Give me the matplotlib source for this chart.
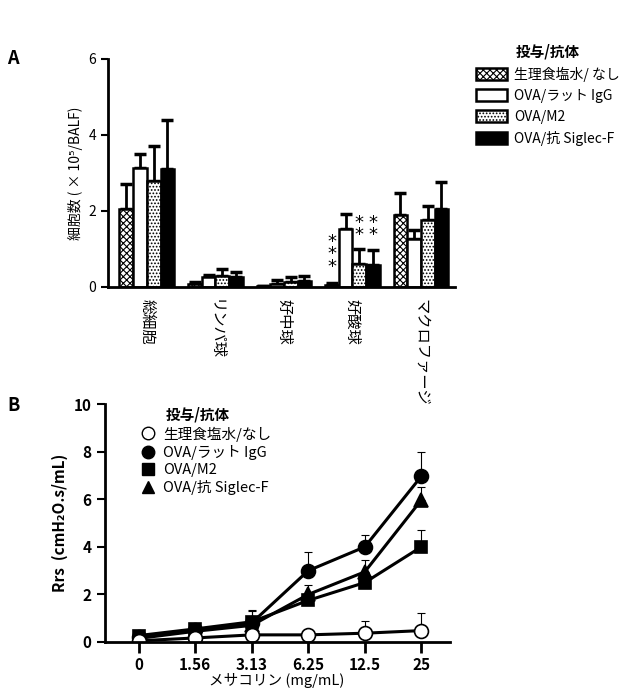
import numpy as np
import matplotlib
matplotlib.use("Agg")
import matplotlib.pyplot as plt
from matplotlib.patches import Patch
from matplotlib.lines import Line2D

plt.rcParams['font.family'] = ['Noto Sans CJK JP', 'DejaVu Sans']
plt.rcParams['hatch.linewidth'] = 0.8

# panel A: BALF cell counts
cell_types = ["総細胞", "リンパ球", "好中球", "好酸球", "マクロファージ"]
groups = ["生理食塩水/ なし", "OVA/ラット IgG", "OVA/M2", "OVA/抗 Siglec-F"]
cells_saline = [2.05, 0.08, 0.02, 0.06, 1.88]
cells_igg = [3.12, 0.26, 0.08, 1.53, 1.27]
cells_m2 = [2.80, 0.28, 0.12, 0.60, 1.76]
cells_sigf = [3.10, 0.27, 0.15, 0.58, 2.06]
err_saline = [0.65, 0.04, 0.01, 0.03, 0.58]
err_igg = [0.38, 0.06, 0.10, 0.38, 0.23]
err_m2 = [0.90, 0.18, 0.13, 0.40, 0.38]
err_sigf = [1.30, 0.12, 0.15, 0.38, 0.70]

# panel B: airway resistance
doses = ["0", "1.56", "3.13", "6.25", "12.5", "25"]
rrs_saline = [0.05, 0.17, 0.30, 0.30, 0.37, 0.48]
rrs_igg = [0.20, 0.50, 0.80, 3.00, 4.00, 6.97]
rrs_m2 = [0.27, 0.55, 0.85, 1.75, 2.50, 4.00]
rrs_sigf = [0.15, 0.45, 0.70, 2.00, 2.95, 5.97]
rerr_saline = [0.05, 0.10, 0.20, 0.15, 0.50, 0.72]
rerr_igg = [0.10, 0.20, 0.55, 0.80, 0.50, 1.03]
rerr_m2 = [0.10, 0.20, 0.45, 0.30, 0.40, 0.70]
rerr_sigf = [0.10, 0.20, 0.40, 0.40, 0.50, 0.53]

fig = plt.figure(figsize=(6.27, 6.93), dpi=100)

# ---- panel A
axA = fig.add_axes([0.172, 0.586, 0.554, 0.329])
x = np.arange(len(cell_types))
w = 0.2
series = [(cells_saline, err_saline, "white", "xxxxx"),
          (cells_igg, err_igg, "white", None),
          (cells_m2, err_m2, "white", "....."),
          (cells_sigf, err_sigf, "black", None)]
offsets = [-0.3, -0.1, 0.1, 0.3]
for (vals, errs, fc, hatch), off in zip(series, offsets):
    axA.bar(x + off, vals, w, color=fc, edgecolor="black", linewidth=1.8,
            hatch=hatch, zorder=2)
    axA.errorbar(x + off, vals, yerr=[np.zeros(len(vals)), errs], fmt="none",
                 ecolor="black", elinewidth=2, capsize=4, capthick=2.5, zorder=1)

# significance marks
star_font = dict(ha="center", va="bottom", fontsize=13, linespacing=0.6,
                 family="DejaVu Sans")
axA.text(3 - 0.3, 0.30, "*\n*\n*", **star_font)
axA.text(3 + 0.1, 1.12, "*\n*", **star_font)
axA.text(3 + 0.3, 1.12, "*\n*", **star_font)

axA.set_xlim(-0.57, 4.5)
axA.set_ylim(0, 6)
axA.set_yticks([0, 2, 4, 6])
axA.set_xticks(x)
axA.set_xticklabels(cell_types, rotation=270, fontsize=11, va="top")
axA.tick_params(axis="x", length=0, pad=9)
axA.tick_params(axis="y", width=1.5, length=5, labelsize=10)
axA.set_ylabel("細胞数 ( × 10⁵/BALF)", fontsize=10)
for s in ["top", "right"]:
    axA.spines[s].set_visible(False)
for s in ["left", "bottom"]:
    axA.spines[s].set_linewidth(2)

handlesA = [Patch(facecolor=fc, edgecolor="black", hatch=h, linewidth=1.8)
            for _, _, fc, h in series]
legA = fig.legend(handlesA, groups, loc="upper left", bbox_to_anchor=(0.74, 0.955),
                  frameon=False, fontsize=10, title="投与/抗体",
                  title_fontproperties={"weight": "bold", "size": 10.5},
                  handlelength=2.2, handleheight=0.9, labelspacing=0.5,
                  handletextpad=0.5)

fig.text(0.012, 0.915, "A", fontsize=13, fontweight="bold", va="center")

# ---- panel B
axB = fig.add_axes([0.167, 0.0736, 0.55, 0.343])
xd = np.arange(len(doses))
lines_b = [(rrs_saline, rerr_saline, "o", "white", 10),
           (rrs_igg, rerr_igg, "o", "black", 10),
           (rrs_m2, rerr_m2, "s", "black", 9),
           (rrs_sigf, rerr_sigf, "^", "black", 10)]
for vals, errs, m, fc, ms in lines_b[::-1]:
    axB.errorbar(xd, vals, yerr=[np.zeros(len(vals)), errs], fmt="none",
                 ecolor="black", elinewidth=0.8, capsize=3, capthick=0.8, zorder=1)
    axB.plot(xd, vals, color="black", linewidth=2.2, marker=m, markersize=ms,
             markerfacecolor=fc, markeredgecolor="black", markeredgewidth=1.2, zorder=2)

axB.set_xlim(-0.6, 5.5)
axB.set_ylim(0, 10)
axB.set_yticks([0, 2, 4, 6, 8, 10])
axB.set_xticks(xd)
axB.set_xticklabels(doses)
for lab in axB.get_xticklabels() + axB.get_yticklabels():
    lab.set_fontweight("bold")
    lab.set_fontsize(11)
axB.tick_params(axis="x", width=2, length=8, pad=3)
axB.tick_params(axis="y", width=1.5, length=6)
axB.set_ylabel("Rrs  (cmH₂O.s/mL)", fontsize=11, fontweight="bold")
axB.set_xlabel("メサコリン (mg/mL)", fontsize=10.5, labelpad=0)
for s in ["top", "right"]:
    axB.spines[s].set_visible(False)
for s in ["left", "bottom"]:
    axB.spines[s].set_linewidth(2)

handlesB = [Line2D([], [], linestyle="none", marker=m, markersize=ms - 1,
                   markerfacecolor=fc, markeredgecolor="black")
            for _, _, m, fc, ms in lines_b]
labelsB = ["生理食塩水/なし", "OVA/ラット IgG", "OVA/M2", "OVA/抗 Siglec-F"]
axB.legend(handlesB, labelsB, loc="upper left", bbox_to_anchor=(0.08, 0.95),
           frameon=False, fontsize=10.5, handlelength=0.8, handletextpad=0.6,
           labelspacing=0.22, borderpad=0.2)
axB.text(0.178, 0.955, "投与/抗体", transform=axB.transAxes, fontsize=10.5,
         fontweight="bold", va="center", ha="left")

fig.text(0.012, 0.415, "B", fontsize=13, fontweight="bold", va="center")

fig.savefig("out.png", dpi=100)
